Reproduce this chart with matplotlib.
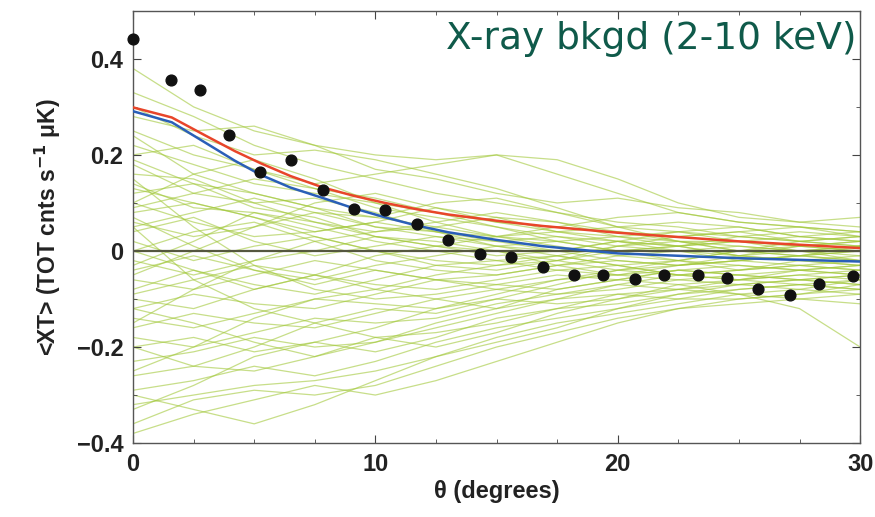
import matplotlib
matplotlib.use("Agg")
import matplotlib.pyplot as plt
from matplotlib.ticker import MultipleLocator

# Observed cross-correlation points
theta_pts = [0.0, 1.57, 2.77, 3.97, 5.25, 6.53, 7.85, 9.13, 10.4, 11.7, 13.0, 14.3,
             15.6, 16.9, 18.2, 19.4, 20.7, 21.9, 23.3, 24.5, 25.8, 27.1, 28.3, 29.7]
xt_pts = [0.441, 0.355, 0.336, 0.241, 0.165, 0.19, 0.128, 0.087, 0.085, 0.056, 0.023, -0.006,
          -0.012, -0.033, -0.049, -0.051, -0.058, -0.051, -0.051, -0.056, -0.080, -0.091, -0.068, -0.052]

# Model curves
theta_model = [0, 1.6, 3.0, 4.2, 5.25, 6.5, 7.85, 9.1, 10.4, 11.7, 13.0, 15.0, 16.9, 20.0, 25.0, 30.0]
red_model = [0.299, 0.278, 0.240, 0.208, 0.183, 0.156, 0.132, 0.115, 0.100, 0.087, 0.076, 0.063,
             0.052, 0.038, 0.020, 0.006]
blue_model = [0.291, 0.268, 0.225, 0.188, 0.159, 0.132, 0.110, 0.089, 0.070, 0.053, 0.039, 0.023,
              0.010, -0.005, -0.015, -0.022]

# Simulated curves
theta_sim = [0, 2.5, 5, 7.5, 10, 12.5, 15, 17.5, 20, 22.5, 25, 27.5, 30]
sim_1 = [0.38, 0.30, 0.25, 0.22, 0.20, 0.19, 0.20, 0.16, 0.12, 0.08, 0.06, 0.05, 0.04]
sim_2 = [0.33, 0.28, 0.22, 0.18, 0.15, 0.12, 0.10, 0.08, 0.06, 0.05, 0.03, 0.04, 0.03]
sim_3 = [0.30, 0.24, 0.20, 0.21, 0.19, 0.16, 0.13, 0.09, 0.05, 0.02, 0.02, 0.01, 0.02]
sim_4 = [0.25, 0.20, 0.17, 0.14, 0.16, 0.18, 0.20, 0.19, 0.15, 0.10, 0.07, 0.06, 0.05]
sim_5 = [0.22, 0.18, 0.14, 0.12, 0.10, 0.08, 0.06, 0.05, 0.04, 0.03, 0.04, 0.05, 0.03]
sim_6 = [0.20, 0.22, 0.17, 0.13, 0.09, 0.07, 0.05, 0.03, 0.01, 0.00, -0.01, 0.01, 0.00]
sim_7 = [0.18, 0.12, 0.10, 0.11, 0.08, 0.04, 0.02, 0.03, 0.02, 0.01, 0.02, 0.03, 0.02]
sim_8 = [0.16, 0.15, 0.10, 0.06, 0.04, 0.05, 0.07, 0.06, 0.04, 0.02, 0.00, -0.01, -0.02]
sim_9 = [0.14, 0.09, 0.08, 0.05, 0.02, 0.00, -0.02, -0.01, 0.01, 0.03, 0.04, 0.02, 0.01]
sim_10 = [0.12, 0.14, 0.12, 0.09, 0.05, 0.03, 0.01, -0.01, -0.03, -0.02, 0.00, 0.02, 0.03]
sim_11 = [0.10, 0.06, 0.03, 0.04, 0.06, 0.04, 0.01, 0.00, 0.02, 0.04, 0.05, 0.03, 0.02]
sim_12 = [0.08, 0.10, 0.07, 0.03, 0.00, -0.02, -0.03, -0.02, 0.00, 0.01, -0.01, -0.02, -0.01]
sim_13 = [0.06, 0.03, 0.05, 0.08, 0.07, 0.05, 0.03, 0.02, 0.03, 0.04, 0.02, 0.00, 0.01]
sim_14 = [0.04, 0.07, 0.02, -0.01, 0.01, 0.03, 0.02, 0.00, -0.02, -0.03, -0.02, -0.01, -0.02]
sim_15 = [0.02, -0.02, 0.01, 0.03, 0.00, -0.03, -0.04, -0.02, 0.01, 0.02, 0.00, -0.01, 0.00]
sim_16 = [0.00, 0.04, 0.06, 0.02, -0.02, -0.04, -0.05, -0.03, -0.01, 0.00, 0.01, 0.00, -0.01]
sim_17 = [-0.02, -0.05, -0.02, 0.00, 0.03, 0.02, 0.00, -0.02, -0.04, -0.03, -0.02, -0.03, -0.02]
sim_18 = [-0.04, -0.01, -0.04, -0.06, -0.03, -0.01, 0.01, 0.02, 0.00, -0.02, -0.04, -0.03, -0.04]
sim_19 = [-0.06, -0.08, -0.05, -0.02, -0.04, -0.06, -0.05, -0.03, -0.02, -0.03, -0.01, 0.00, -0.02]
sim_20 = [-0.08, -0.04, -0.07, -0.09, -0.06, -0.03, -0.02, -0.04, -0.05, -0.04, -0.05, -0.04, -0.03]
sim_21 = [-0.10, -0.12, -0.08, -0.05, -0.07, -0.08, -0.06, -0.04, -0.03, -0.05, -0.06, -0.05, -0.04]
sim_22 = [-0.12, -0.09, -0.11, -0.12, -0.09, -0.06, -0.07, -0.08, -0.06, -0.04, -0.03, -0.04, -0.05]
sim_23 = [-0.14, -0.16, -0.13, -0.10, -0.11, -0.12, -0.09, -0.06, -0.05, -0.06, -0.07, -0.06, -0.05]
sim_24 = [-0.16, -0.13, -0.15, -0.16, -0.13, -0.10, -0.08, -0.09, -0.08, -0.06, -0.05, -0.06, -0.07]
sim_25 = [-0.18, -0.20, -0.17, -0.14, -0.15, -0.14, -0.11, -0.09, -0.07, -0.08, -0.07, -0.06, -0.05]
sim_26 = [-0.20, -0.18, -0.21, -0.19, -0.16, -0.12, -0.10, -0.11, -0.10, -0.08, -0.06, -0.07, -0.08]
sim_27 = [-0.23, -0.21, -0.18, -0.20, -0.19, -0.16, -0.13, -0.10, -0.09, -0.08, -0.09, -0.08, -0.06]
sim_28 = [-0.26, -0.24, -0.25, -0.22, -0.18, -0.17, -0.15, -0.12, -0.11, -0.09, -0.07, -0.08, -0.09]
sim_29 = [-0.29, -0.27, -0.24, -0.26, -0.23, -0.19, -0.16, -0.14, -0.12, -0.10, -0.10, -0.09, -0.07]
sim_30 = [-0.32, -0.30, -0.28, -0.27, -0.25, -0.22, -0.18, -0.15, -0.13, -0.11, -0.09, -0.10, -0.11]
sim_31 = [-0.36, -0.31, -0.29, -0.30, -0.28, -0.24, -0.20, -0.17, -0.14, -0.12, -0.10, -0.09, -0.08]
sim_32 = [-0.38, -0.34, -0.31, -0.28, -0.30, -0.27, -0.23, -0.19, -0.15, -0.12, -0.11, -0.10, -0.09]
sim_33 = [0.28, 0.25, 0.26, 0.22, 0.17, 0.15, 0.12, 0.10, 0.11, 0.09, 0.08, 0.06, 0.07]
sim_34 = [-0.05, 0.00, 0.05, 0.10, 0.12, 0.09, 0.06, 0.04, 0.05, 0.06, 0.05, 0.03, 0.04]
sim_35 = [0.15, 0.05, -0.03, -0.08, -0.10, -0.09, -0.07, -0.05, -0.06, -0.07, -0.09, -0.12, -0.20]
sim_36 = [-0.15, -0.08, -0.02, 0.02, 0.04, 0.06, 0.08, 0.06, 0.03, 0.01, 0.02, 0.01, 0.00]
sim_37 = [0.05, -0.06, -0.12, -0.15, -0.18, -0.20, -0.17, -0.13, -0.10, -0.07, -0.06, -0.05, -0.06]
sim_38 = [-0.25, -0.20, -0.14, -0.10, -0.08, -0.10, -0.12, -0.10, -0.07, -0.05, -0.04, -0.03, -0.04]
sim_39 = [0.10, 0.16, 0.19, 0.15, 0.10, 0.06, 0.03, 0.05, 0.07, 0.08, 0.06, 0.05, 0.04]
sim_40 = [-0.30, -0.33, -0.36, -0.32, -0.27, -0.22, -0.19, -0.16, -0.12, -0.09, -0.08, -0.07, -0.06]
sim_41 = [0.09, 0.12, 0.15, 0.13, 0.11, 0.08, 0.05, 0.02, 0.00, 0.01, 0.03, 0.02, 0.01]
sim_42 = [0.05, 0.08, 0.11, 0.08, 0.05, 0.04, 0.03, 0.01, -0.01, -0.02, 0.00, 0.01, 0.02]
sim_43 = [0.13, 0.10, 0.07, 0.04, 0.06, 0.09, 0.07, 0.04, 0.02, 0.00, -0.02, -0.01, 0.00]
sim_44 = [-0.03, 0.02, 0.08, 0.06, 0.03, 0.01, -0.01, 0.00, 0.02, 0.01, -0.01, -0.02, -0.03]
sim_45 = [0.00, -0.04, -0.08, -0.05, -0.01, 0.01, 0.00, -0.03, -0.05, -0.03, -0.02, -0.01, 0.01]
sim_46 = [-0.09, -0.06, -0.03, -0.05, -0.08, -0.05, -0.03, -0.01, -0.03, -0.05, -0.04, -0.02, -0.03]
sim_47 = [0.19, 0.14, 0.09, 0.07, 0.03, 0.01, 0.03, 0.04, 0.03, 0.02, 0.01, 0.00, 0.01]
sim_48 = [-0.20, -0.24, -0.20, -0.15, -0.12, -0.13, -0.10, -0.07, -0.04, -0.05, -0.06, -0.04, -0.05]
sim_49 = [-0.33, -0.28, -0.22, -0.19, -0.21, -0.18, -0.14, -0.12, -0.09, -0.10, -0.08, -0.07, -0.08]
sim_50 = [0.24, 0.16, 0.12, 0.09, 0.07, 0.10, 0.11, 0.08, 0.05, 0.04, 0.03, 0.02, 0.03]
sim_51 = [-0.12, -0.15, -0.19, -0.22, -0.19, -0.15, -0.12, -0.08, -0.06, -0.04, -0.05, -0.06, -0.07]
sim_52 = [0.07, 0.01, -0.04, -0.07, -0.04, -0.06, -0.08, -0.06, -0.04, -0.02, -0.03, -0.04, -0.03]

sims = [sim_1, sim_2, sim_3, sim_4, sim_5, sim_6, sim_7, sim_8, sim_9, sim_10,
        sim_11, sim_12, sim_13, sim_14, sim_15, sim_16, sim_17, sim_18, sim_19, sim_20,
        sim_21, sim_22, sim_23, sim_24, sim_25, sim_26, sim_27, sim_28, sim_29, sim_30,
        sim_31, sim_32, sim_33, sim_34, sim_35, sim_36, sim_37, sim_38, sim_39, sim_40,
        sim_41, sim_42, sim_43, sim_44, sim_45, sim_46, sim_47, sim_48, sim_49, sim_50,
        sim_51, sim_52]

plt.rcParams['font.family'] = ['Liberation Sans', 'DejaVu Sans']

fig = plt.figure(figsize=(8.75, 5.17), dpi=100)
ax = fig.add_axes([0.152, 0.143, 0.831, 0.836])

for s in sims:
    ax.plot(theta_sim, s, color='#a2c83a', alpha=0.6, lw=0.9, zorder=1)

ax.axhline(0, color='#55573f', lw=1.6, zorder=2)
ax.plot(theta_model, red_model, color='#e8452a', lw=1.8, zorder=3)
ax.plot(theta_model, blue_model, color='#2a5fb8', lw=1.8, zorder=3)
ax.scatter(theta_pts, xt_pts, s=60, color='#111111', zorder=4, clip_on=False)

ax.set_xlim(0, 30)
ax.set_ylim(-0.4, 0.5)
ax.set_xticks([0, 10, 20, 30])
ax.set_yticks([-0.4, -0.2, 0, 0.2, 0.4])
ax.set_yticklabels(['\u22120.4', '\u22120.2', '0', '0.2', '0.4'])
ax.xaxis.set_minor_locator(MultipleLocator(2.5))
ax.yaxis.set_minor_locator(MultipleLocator(0.1))
ax.tick_params(which='both', direction='in', top=True, right=True, color='#444444')
ax.tick_params(which='major', length=6, labelsize=17, pad=7)
ax.tick_params(which='minor', length=3)
for lbl in ax.get_xticklabels() + ax.get_yticklabels():
    lbl.set_fontweight('bold')
    lbl.set_color('#222222')
for sp in ax.spines.values():
    sp.set_color('#555555')
    sp.set_linewidth(1.0)

ax.set_xlabel('\u03b8 (degrees)', fontsize=17, fontweight='bold', color='#222222', labelpad=3)
ax.set_ylabel('<XT> (TOT cnts s$^{\\mathbf{-1}}$ \u03bcK)', fontsize=16.5, fontweight='bold',
              color='#222222', labelpad=10)

ax.text(0.995, 0.935, 'X-ray bkgd (2-10 keV)', transform=ax.transAxes, fontsize=27,
        color='#0f5a4a', ha='right', va='center', family=['DejaVu Sans'])

fig.savefig('out.png', dpi=100)
